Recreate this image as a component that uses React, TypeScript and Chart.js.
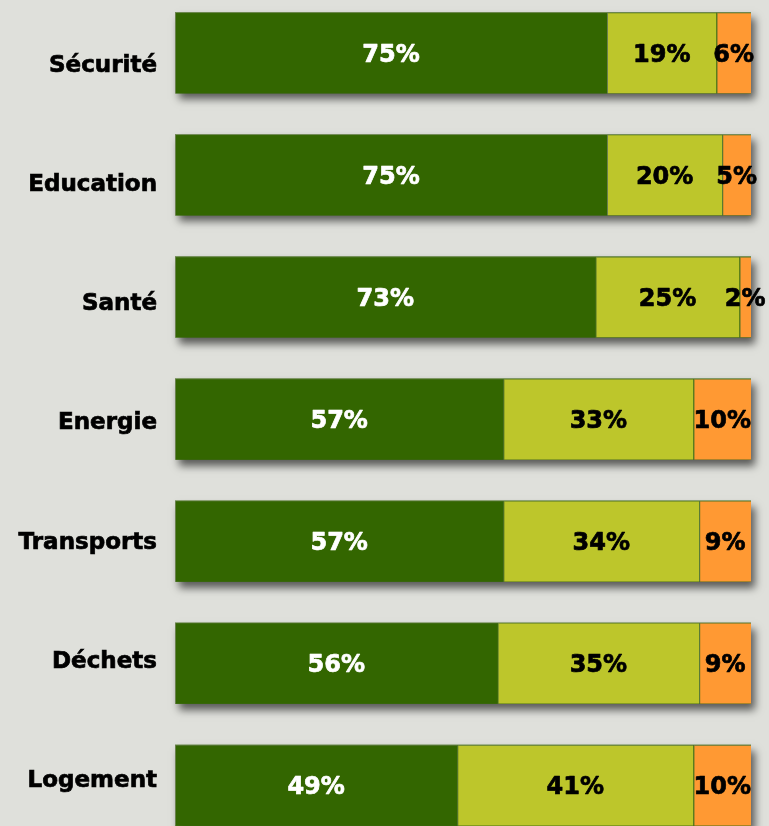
import React, { useEffect, useRef } from "react";
import { Chart, registerables } from "chart.js";

Chart.register(...registerables);

const categories = ["Sécurité", "Education", "Santé", "Energie", "Transports", "Déchets", "Logement"];
const seriesA = [75, 75, 73, 57, 57, 56, 49];
const seriesB = [19, 20, 25, 33, 34, 35, 41];
const seriesC = [6, 5, 2, 10, 9, 9, 10];
const seriesNames = ["A", "B", "C"];
const seriesColors = ["#336600", "#bdc62b", "#ff9933"];
const labelColors = ["#ffffff", "#000000", "#000000"];

const FONT = "'DejaVu Sans', Verdana, sans-serif";

const shadowPlugin = {
  id: "barShadow",
  beforeDatasetsDraw(chart: any) {
    const ctx = chart.ctx;
    const first = chart.getDatasetMeta(0).data;
    const last = chart.getDatasetMeta(chart.data.datasets.length - 1).data;
    ctx.save();
    ctx.shadowColor = "rgba(0,0,0,0.6)";
    ctx.shadowBlur = 8;
    ctx.shadowOffsetX = 4;
    ctx.shadowOffsetY = 6;
    ctx.fillStyle = "#336600";
    first.forEach((el: any, i: number) => {
      const l = last[i];
      const left = el.base;
      const right = l.x;
      const h = el.height;
      ctx.fillRect(left, el.y - h / 2, right - left, h);
    });
    ctx.restore();
  },
};

const valueLabelPlugin = {
  id: "valueLabels",
  afterDatasetsDraw(chart: any) {
    const ctx = chart.ctx;
    ctx.save();
    ctx.font = `bold 24px ${FONT}`;
    ctx.textAlign = "center";
    ctx.textBaseline = "middle";
    ctx.lineWidth = 0.7;
    ctx.lineJoin = "round";
    chart.data.datasets.forEach((ds: any, di: number) => {
      const meta = chart.getDatasetMeta(di);
      ctx.fillStyle = labelColors[di];
      ctx.strokeStyle = labelColors[di];
      meta.data.forEach((el: any, i: number) => {
        const cx = (el.x + el.base) / 2;
        const txt = ds.data[i] + "%";
        ctx.strokeText(txt, cx, el.y + 2.5);
        ctx.fillText(txt, cx, el.y + 2.5);
      });
    });
    ctx.restore();
  },
};

export default function App() {
  const ref = useRef<HTMLCanvasElement>(null);
  useEffect(() => {
    if (!ref.current) return;
    const all = [seriesA, seriesB, seriesC];
    const chart = new Chart(ref.current, {
      type: "bar",
      data: {
        labels: categories,
        datasets: all.map((d, i) => ({
          label: seriesNames[i],
          data: d,
          backgroundColor: seriesColors[i],
          borderColor: "rgba(150,150,140,0.55)",
          borderWidth: { top: 1, left: 1, right: 0, bottom: 0 },
          borderSkipped: false,
          categoryPercentage: 1,
          barPercentage: 0.665,
          yAxisID: "y",
          xAxisID: "x",
        })),
      },
      plugins: [shadowPlugin, valueLabelPlugin],
      options: {
        indexAxis: "y",
        animation: false,
        responsive: true,
        maintainAspectRatio: false,
        layout: { padding: { top: 30.9, bottom: 43.7, left: 0, right: 18 } },
        plugins: {
          legend: { display: false },
          tooltip: { enabled: false },
        },
        scales: {
          x: {
            stacked: true,
            min: 0,
            max: 100,
            display: false,
          },
          y: {
            type: "category",
            stacked: true,
            display: false,
            offset: true,
          },
          y2: {
            type: "linear",
            position: "left",
            reverse: true,
            offset: false,
            bounds: "data",
            min: -0.621,
            max: 6.547,
            grid: { display: false, drawTicks: false, offset: false },
            border: { display: false },
            afterBuildTicks: (s: any) => {
              s.ticks = categories.map((_, i) => ({ value: i }));
            },
            afterFit: (s: any) => {
              s.width = 175;
            },
            ticks: {
              autoSkip: false,
              padding: 18,
              color: "#000000",
              textStrokeColor: "#000000",
              textStrokeWidth: 0.7,
              font: { family: FONT, size: 23, weight: "bold" },
              callback: (v: any) => categories[v] ?? "",
            },
          },
        },
      },
    } as any);
    return () => chart.destroy();
  }, []);

  return (
    <div
      style={{
        position: "fixed",
        left: 0,
        top: 0,
        width: 769,
        height: 826,
        overflow: "hidden",
        background: "#dfe0db",
      }}
    >
      <div style={{ position: "absolute", left: 0, top: -40, width: 769, height: 930 }}>
        <canvas ref={ref} />
      </div>
    </div>
  );
}
